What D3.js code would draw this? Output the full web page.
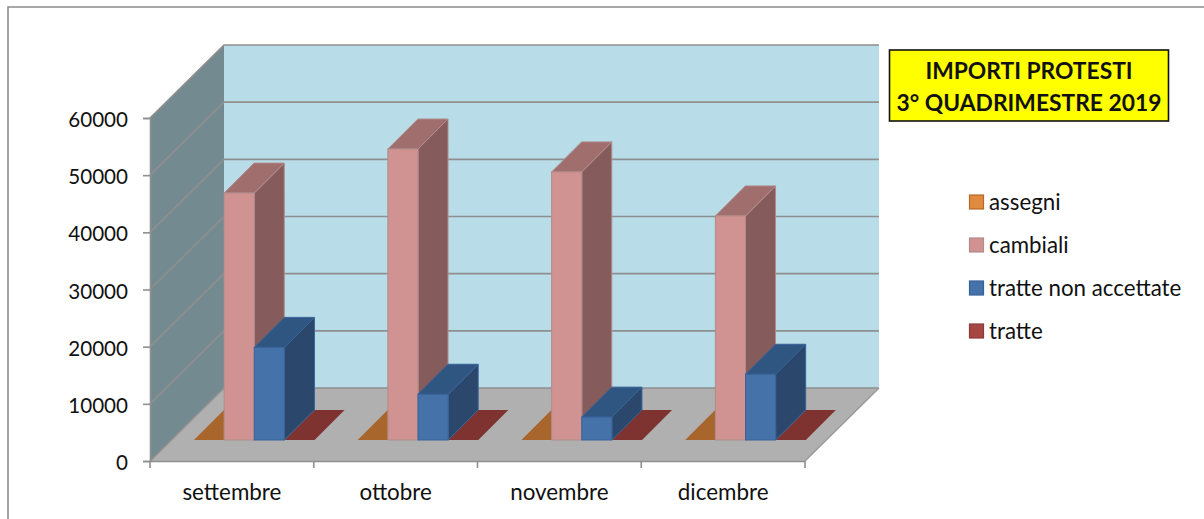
<!DOCTYPE html>
<html>
<head>
<meta charset="utf-8">
<script src="https://cdn.jsdelivr.net/npm/d3@7"></script>
<style>
  html, body { margin: 0; padding: 0; background: #fff; }
  svg { display: block; }
  text { font-family: Lato, "Open Sans", sans-serif; fill: #111; }
</style>
</head>
<body>
<svg id="chart" width="1204" height="519"></svg>
<script>
const categories = ['settembre', 'ottobre', 'novembre', 'dicembre'];
const seriesNames = ['assegni', 'cambiali', 'tratte non accettate', 'tratte'];
const assegni = [0, 0, 0, 0];
const cambiali = [43200, 50900, 46900, 39200];
const tratteNonAccettate = [16200, 8000, 4000, 11500];
const tratte = [0, 0, 0, 0];
const yTicks = [0, 10000, 20000, 30000, 40000, 50000, 60000];
const titleLines = ['IMPORTI PROTESTI', '3° QUADRIMESTRE 2019'];

const seriesValues = [assegni, cambiali, tratteNonAccettate, tratte];
const front = ['#df8a3e', '#d09391', '#4572a9', '#a64744'];
const top_ = ['#df8a3e', '#a06e6d', '#2f5581', '#7f3330'];
const side = ['#b06a2c', '#855c5b', '#2b476c', '#7f3330'];
const flat = ['#a8652c', '#a06e6d', '#2f5581', '#7f3330'];
const edge = ['#b5692b', '#b08c8b', '#38629a', '#8a3a37'];

const svg = d3.select('#chart');
const margin = { left: 150, right: 805, top: 118, bottom: 461 };
const depth = { x: 74, y: 73 };   // shift from the front of the floor to the back wall
const barDepth = { x: 30, y: 30 };
const barShift = { x: 22.4, y: 21 }; // bars stand a little way in from the front edge
const gridColor = '#8f8f8f';

// chart frame, only the top and left edges are in the picture
svg.append('path')
  .attr('d', 'M8,519 V7 H1204')
  .attr('fill', 'none').attr('stroke', '#8c8c8c').attr('stroke-width', 1.6);

const x = d3.scaleBand().domain(categories).range([margin.left, margin.right]);
const xInner = d3.scaleBand().domain(d3.range(seriesNames.length))
  .range([0, x.bandwidth()]).paddingOuter(0.715).paddingInner(0);
const y = d3.scaleLinear().domain([0, 60000]).range([margin.bottom, margin.top]);

const poly = pts => pts.map(p => p.join(',')).join(' ');

// walls and floor
const x0 = margin.left, x1 = margin.right, y0 = margin.bottom, y1 = margin.top;
svg.append('polygon')
  .attr('points', poly([[x0, y0], [x0 + depth.x, y0 - depth.y], [x0 + depth.x, y1 - depth.y], [x0, y1]]))
  .attr('fill', '#748a91');
svg.append('polygon')
  .attr('points', poly([[x0 + depth.x, y0 - depth.y], [x1 + depth.x, y0 - depth.y], [x1 + depth.x, y1 - depth.y], [x0 + depth.x, y1 - depth.y]]))
  .attr('fill', '#b8dde8');
svg.append('polygon')
  .attr('points', poly([[x0, y0], [x1, y0], [x1 + depth.x, y0 - depth.y], [x0 + depth.x, y0 - depth.y]]))
  .attr('fill', '#b0b0b0');

// gridlines run along the side wall, then the back wall
svg.append('g').selectAll('polyline')
  .data(yTicks)
  .enter().append('polyline')
  .attr('points', d => poly([[x0, y(d)], [x0 + depth.x, y(d) - depth.y], [x1 + depth.x, y(d) - depth.y]]))
  .attr('fill', 'none')
  .attr('stroke', gridColor)
  .attr('stroke-width', 1.6);
svg.append('line')
  .attr('x1', x1).attr('y1', y0)
  .attr('x2', x1 + depth.x).attr('y2', y0 - depth.y)
  .attr('stroke', '#9a9a9a').attr('stroke-width', 1.5);

const bars = [];
seriesNames.forEach((name, s) => {
  categories.forEach((c, i) => bars.push({ s, c, value: seriesValues[s][i] }));
});

const barGroup = svg.append('g');
categories.forEach(c => {
  // flat plates first so the standing bars overlap them
  [0, 3, 1, 2].forEach(s => {
    const d = bars.find(b => b.s === s && b.c === c);
    const left = x(c) + xInner(s) + barShift.x;
    const right = left + xInner.bandwidth();
    const base = y(0) - barShift.y;
    const top = y(d.value) - barShift.y;
    const g = barGroup.append('g').attr('class', 'bar');
    if (d.value === 0) {
      // zero-height series only show as a flat plate on the floor
      g.append('polygon')
        .attr('points', poly([[left, base], [right, base], [right + barDepth.x, base - barDepth.y], [left + barDepth.x, base - barDepth.y]]))
        .attr('fill', flat[s]);
      return;
    }
    g.append('polygon')
      .attr('points', poly([[right, base], [right + barDepth.x, base - barDepth.y], [right + barDepth.x, top - barDepth.y], [right, top]]))
      .attr('fill', side[s]).attr('stroke', edge[s]).attr('stroke-width', 1);
    g.append('polygon')
      .attr('points', poly([[left, top], [right, top], [right + barDepth.x, top - barDepth.y], [left + barDepth.x, top - barDepth.y]]))
      .attr('fill', top_[s]).attr('stroke', edge[s]).attr('stroke-width', 1);
    g.append('rect')
      .attr('x', left).attr('y', top)
      .attr('width', right - left).attr('height', base - top)
      .attr('fill', front[s]).attr('stroke', edge[s]).attr('stroke-width', 1);
  });
});

// axes
const axisY = svg.append('g')
  .attr('transform', `translate(${x0},0)`)
  .call(d3.axisLeft(y).tickValues(yTicks).tickSize(7).tickPadding(15).tickFormat(d3.format('d')));
const axisX = svg.append('g')
  .attr('transform', `translate(0,${y0})`)
  .call(d3.axisBottom(x).tickSize(0).tickPadding(23));
// tick marks sit between the categories
axisX.selectAll('.boundary')
  .data(d3.range(categories.length + 1))
  .enter().append('line')
  .attr('class', 'boundary')
  .attr('x1', i => x0 + i * x.step()).attr('x2', i => x0 + i * x.step())
  .attr('y1', 0).attr('y2', 7)
  .attr('stroke', gridColor).attr('stroke-width', 1.6);
[axisY, axisX].forEach(a => {
  a.selectAll('path.domain').attr('stroke', gridColor).attr('stroke-width', 1.6);
  a.selectAll('.tick line').attr('stroke', gridColor).attr('stroke-width', 1.6);
});
axisY.selectAll('.tick text').attr('font-family', 'Lato').attr('font-size', 20.6).attr('fill', '#111').attr('dy', '0.42em');
axisX.selectAll('.tick text').attr('font-family', 'Lato').attr('font-size', 22.4).attr('fill', '#111').attr('dy', '0.71em');

// title box
svg.append('rect')
  .attr('x', 889.5).attr('y', 50)
  .attr('width', 279).attr('height', 71)
  .attr('fill', '#ffff00').attr('stroke', '#111').attr('stroke-width', 1.6);
svg.selectAll('.title')
  .data(titleLines)
  .enter().append('text')
  .attr('class', 'title')
  .attr('x', 1029)
  .attr('y', (d, i) => 79 + i * 32)
  .attr('text-anchor', 'middle')
  .attr('font-size', 22.8)
  .attr('font-weight', 700)
  .attr('fill', '#000')
  .text(d => d);

// legend
const legend = svg.selectAll('.legend')
  .data(seriesNames)
  .enter().append('g')
  .attr('class', 'legend')
  .attr('transform', (d, i) => `translate(969,${194.5 + i * 43})`);
legend.append('rect')
  .attr('x', 0.5).attr('y', 0.5)
  .attr('width', 14).attr('height', 14)
  .attr('fill', (d, i) => front[i])
  .attr('stroke', (d, i) => edge[i])
  .attr('stroke-width', 1.2);
legend.append('text')
  .attr('x', 20)
  .attr('y', 15)
  .attr('font-size', 22.3)
  .text(d => d);
</script>
</body>
</html>
